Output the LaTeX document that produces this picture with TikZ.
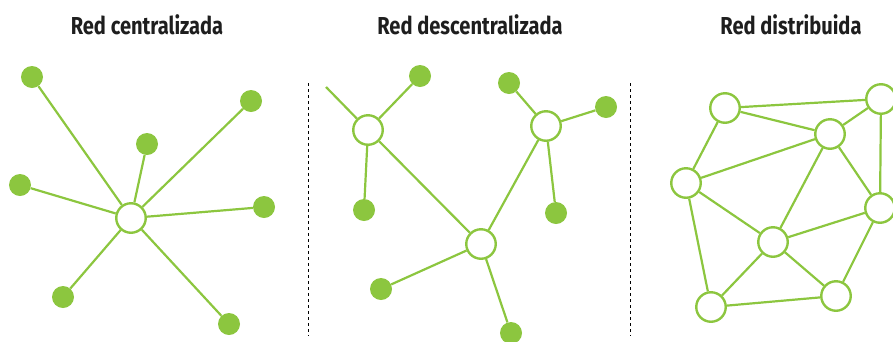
\documentclass[tikz,border=0pt]{standalone}
\usepackage{fontspec}
\setsansfont{Fira Sans}[FakeStretch=0.82]
\definecolor{netgreen}{HTML}{8CC63F}
\definecolor{titlegray}{HTML}{1E1E1E}
\tikzset{
        hub/.style={circle, draw=netgreen, line width=2.4pt, fill=white, minimum size=29.5pt, inner sep=0pt},
        leaf/.style={circle, fill=netgreen, minimum size=22pt, inner sep=0pt},
        link/.style={draw=netgreen, line width=2.2pt},
        divider/.style={draw=black, line width=0.8pt, dash pattern=on 3pt off 3pt},
        title/.style={font=\sffamily\bfseries\fontsize{24.5}{28}\selectfont, text=titlegray, anchor=center}
          }

\begin{document}
\begin{tikzpicture}[x=1pt, y=-1pt]
        \useasboundingbox (0,0) rectangle (893,341);
        % titles
        \node[title] (t1) at (147,25) {Red centralizada};
        \node[title] (t2) at (470,25) {Red descentralizada};
        \node[title] (t3) at (791,25) {Red distribuida};
        % dividers
        \coordinate (d1a) at (308,83);
        \coordinate (d1b) at (308,336);
        \coordinate (d2a) at (630.5,83);
        \coordinate (d2b) at (630.5,336);
        \draw[divider] (d1a) -- (d1b);
        \draw[divider] (d2a) -- (d2b);

        % centralizada
        \node[hub] (c) at (131,218) {};
        \node[leaf] (c1) at (32,77) {};
        \node[leaf] (c2) at (251,101) {};
        \node[leaf] (c3) at (147,144) {};
        \node[leaf] (c4) at (20,185) {};
        \node[leaf] (c5) at (264,207) {};
        \node[leaf] (c6) at (63,297) {};
        \node[leaf] (c7) at (229,324) {};
        \draw[link] (c) -- (c1);
        \draw[link] (c) -- (c2);
        \draw[link] (c) -- (c3);
        \draw[link] (c) -- (c4);
        \draw[link] (c) -- (c5);
        \draw[link] (c) -- (c6);
        \draw[link] (c) -- (c7);

        % descentralizada
        \node[hub] (ha) at (368,130) {};
        \node[hub] (hb) at (546,126) {};
        \node[hub] (hc) at (481,244) {};
        \node[leaf] (a1) at (420,76) {};
        \node[leaf] (a2) at (364,210) {};
        \coordinate (a3) at (326,87);
        \node[leaf] (b1) at (509,83) {};
        \node[leaf] (b2) at (606,107) {};
        \node[leaf] (b3) at (556,213) {};
        \node[leaf] (e1) at (381,289) {};
        \node[leaf] (e2) at (511,333) {};
        \draw[link] (ha) -- (a1);
        \draw[link] (ha) -- (a2);
        \draw[link] (ha) -- (a3);
        \draw[link] (ha) -- (hc);
        \draw[link] (hb) -- (b1);
        \draw[link] (hb) -- (b2);
        \draw[link] (hb) -- (b3);
        \draw[link] (hb) -- (hc);
        \draw[link] (hc) -- (e1);
        \draw[link] (hc) -- (e2);

        % distribuida
        \node[hub] (n1) at (725,108) {};
        \node[hub] (n2) at (881,99) {};
        \node[hub] (n3) at (830,134) {};
        \node[hub] (n4) at (686,183) {};
        \node[hub] (n5) at (880,208) {};
        \node[hub] (n6) at (773,242) {};
        \node[hub] (n7) at (711,307) {};
        \node[hub] (n8) at (836,296) {};
        \draw[link] (n1) -- (n2);
        \draw[link] (n1) -- (n3);
        \draw[link] (n1) -- (n4);
        \draw[link] (n3) -- (n2);
        \draw[link] (n3) -- (n4);
        \draw[link] (n3) -- (n6);
        \draw[link] (n3) -- (n5);
        \draw[link] (n2) -- (n5);
        \draw[link] (n4) -- (n6);
        \draw[link] (n4) -- (n7);
        \draw[link] (n6) -- (n5);
        \draw[link] (n6) -- (n7);
        \draw[link] (n6) -- (n8);
        \draw[link] (n7) -- (n8);
        \draw[link] (n8) -- (n5);
      \end{tikzpicture}
\end{document}
